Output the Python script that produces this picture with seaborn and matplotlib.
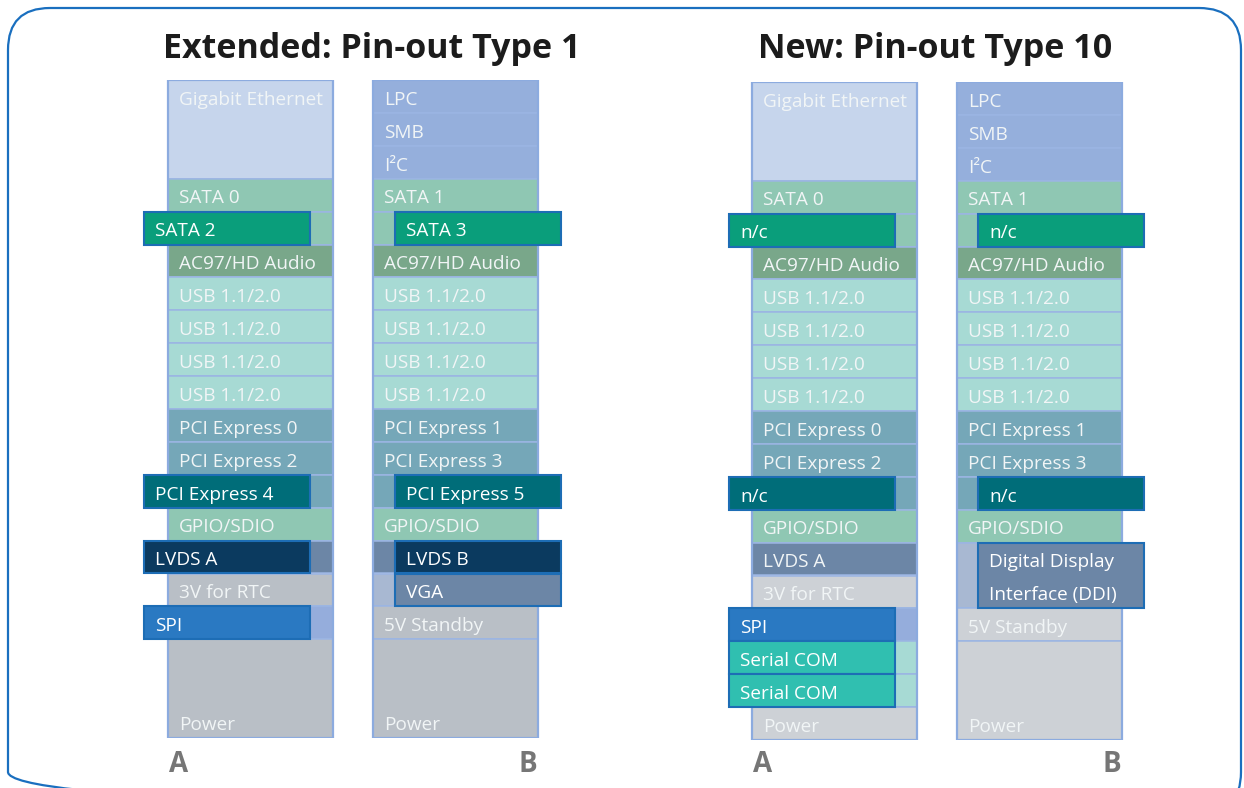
import matplotlib
matplotlib.use("Agg")
import matplotlib.pyplot as plt
from matplotlib.patches import FancyBboxPatch
import seaborn as sns

# ---- data: one list per column, top to bottom, spans in pin rows ----
ext_a_labels = ["Gigabit Ethernet", "SATA 0", "SATA 2", "AC97/HD Audio",
                "USB 1.1/2.0", "USB 1.1/2.0", "USB 1.1/2.0", "USB 1.1/2.0",
                "PCI Express 0", "PCI Express 2", "PCI Express 4", "GPIO/SDIO",
                "LVDS A", "3V for RTC", "SPI", "Power"]
ext_a_spans = [3, 1, 1, 1, 1, 1, 1, 1, 1, 1, 1, 1, 1, 1, 1, 3]
ext_a_kinds = ["gbe", "sata", "sata+", "audio", "usb", "usb", "usb", "usb",
               "pcie", "pcie", "pcie+", "sata", "lvds+", "gray", "spi+", "gray"]

ext_b_labels = ["LPC", "SMB", "I²C", "SATA 1", "SATA 3", "AC97/HD Audio",
                "USB 1.1/2.0", "USB 1.1/2.0", "USB 1.1/2.0", "USB 1.1/2.0",
                "PCI Express 1", "PCI Express 3", "PCI Express 5", "GPIO/SDIO",
                "LVDS B", "VGA", "5V Standby", "Power"]
ext_b_spans = [1, 1, 1, 1, 1, 1, 1, 1, 1, 1, 1, 1, 1, 1, 1, 1, 1, 3]
ext_b_kinds = ["bus", "bus", "bus", "sata", "sata+", "audio", "usb", "usb", "usb", "usb",
               "pcie", "pcie", "pcie+", "sata", "lvds+", "vga+", "gray", "gray"]

new_a_labels = ["Gigabit Ethernet", "SATA 0", "n/c", "AC97/HD Audio",
                "USB 1.1/2.0", "USB 1.1/2.0", "USB 1.1/2.0", "USB 1.1/2.0",
                "PCI Express 0", "PCI Express 2", "n/c", "GPIO/SDIO",
                "LVDS A", "3V for RTC", "SPI", "Serial COM", "Serial COM", "Power"]
new_a_spans = [3, 1, 1, 1, 1, 1, 1, 1, 1, 1, 1, 1, 1, 1, 1, 1, 1, 1]
new_a_kinds = ["gbe", "sata", "sata+", "audio", "usb", "usb", "usb", "usb",
               "pcie", "pcie", "pcie+", "sata", "lvds", "gray", "spi+", "com+", "com+", "gray"]

new_b_labels = ["LPC", "SMB", "I²C", "SATA 1", "n/c", "AC97/HD Audio",
                "USB 1.1/2.0", "USB 1.1/2.0", "USB 1.1/2.0", "USB 1.1/2.0",
                "PCI Express 1", "PCI Express 3", "n/c", "GPIO/SDIO",
                "Digital Display\nInterface (DDI)", "5V Standby", "Power"]
new_b_spans = [1, 1, 1, 1, 1, 1, 1, 1, 1, 1, 1, 1, 1, 1, 2, 1, 3]
new_b_kinds = ["bus", "bus", "bus", "sata", "sata+", "audio", "usb", "usb", "usb", "usb",
               "pcie", "pcie", "pcie+", "sata", "vga+", "gray", "gray"]

panel_titles = ["Extended: Pin-out Type 1", "New: Pin-out Type 10"]
row_names = ["A", "B"]

# ---- styling ----
base_colours = {"gbe": "#c6d5ec", "bus": "#95afdc", "sata": "#8fc7b3", "audio": "#79a78a",
                "usb": "#a7dad4", "pcie": "#75a7b8", "lvds": "#6c86a6",
                "sata+": "#8fc7b3", "pcie+": "#75a7b8", "lvds+": "#6c86a6",
                "vga+": "#a8b8d2", "spi+": "#95addc", "com+": "#a7dad4"}
over_colours = {"sata+": "#0a9e7b", "pcie+": "#006d79", "lvds+": "#0b3a5f",
                "vga+": "#6c86a6", "spi+": "#2a79c2", "com+": "#30bfb0"}
panel_grays = ["#b9bfc6", "#cdd1d6"]

sns.set_theme(style="white")
plt.rcParams["font.family"] = ["Open Sans", "DejaVu Sans"]
cell_fs, title_fs, ab_fs = 13.7, 24.5, 20

W, H = 1244, 788
N_ROWS = 20
fig = plt.figure(figsize=(W / 100, H / 100), dpi=100)

bg = fig.add_axes([0, 0, 1, 1])
bg.set_xlim(0, W)
bg.set_ylim(H, 0)
bg.axis("off")
bg.add_patch(FancyBboxPatch((8, 8), 1233, 806, boxstyle="round,pad=0,rounding_size=42",
                            fill=False, ec="#1a6fbf", lw=1.6))

# panel layout in pixels: column A left, column B left, overlay A left, overlay B left, top, bottom
layouts = [dict(a=168, b=373, oa=144, ob=395, top=80, bottom=738, cx=372),
           dict(a=752, b=957, oa=729, ob=978, top=82, bottom=740, cx=935)]
columns = [[(ext_a_labels, ext_a_spans, ext_a_kinds), (ext_b_labels, ext_b_spans, ext_b_kinds)],
           [(new_a_labels, new_a_spans, new_a_kinds), (new_b_labels, new_b_spans, new_b_kinds)]]
COL_W = 165
OV_W = 166
edge = "#9bb5e3"


def draw_column(ax, x0, ox0, labels, spans, kinds, gray):
    row = 0
    for lab, n, kind in zip(labels, spans, kinds):
        colour = gray if kind == "gray" else base_colours[kind]
        ax.bar(x0, n, width=COL_W, bottom=row, align="edge", color=colour,
               edgecolor=edge, linewidth=1.1, zorder=1)
        if kind in over_colours:
            ax.bar(ox0, n, width=OV_W, bottom=row, align="edge", color=over_colours[kind],
                   edgecolor="#1d6db5", linewidth=1.5, zorder=4)
            tx, tcol = ox0 + 11, "white"
        else:
            tx, tcol = x0 + 11, "#f1f5f6"
        lines = lab.split("\n")
        first = row + n - 1 if kind == "gray" else row
        for i, line in enumerate(lines):
            ax.text(tx, first + i + 0.6, line, ha="left", va="center", fontsize=cell_fs,
                    color=tcol, zorder=5)
        row += n
    ax.bar(x0, N_ROWS, width=COL_W, bottom=0, align="edge", fill=False,
           edgecolor="#8cabdf", linewidth=1.6, zorder=2)


for p, (lay, cols, title) in enumerate(zip(layouts, columns, panel_titles)):
    ax = fig.add_axes([0, 1 - lay["bottom"] / H, 1, (lay["bottom"] - lay["top"]) / H])
    ax.set_xlim(0, W)
    ax.set_ylim(N_ROWS, 0)
    ax.axis("off")
    draw_column(ax, lay["a"], lay["oa"], *cols[0], panel_grays[p])
    draw_column(ax, lay["b"], lay["ob"], *cols[1], panel_grays[p])
    bg.text(lay["cx"], 49, title, ha="center", va="center", fontsize=title_fs,
            fontweight="bold", color="#1c1c1c")
    bg.text(lay["a"] + 1, 765, row_names[0], ha="left", va="center", fontsize=ab_fs,
            fontweight="bold", color="#767676")
    bg.text(lay["b"] + COL_W - 1, 765, row_names[1], ha="right", va="center", fontsize=ab_fs,
            fontweight="bold", color="#767676")

fig.savefig("out.png", dpi=100)
